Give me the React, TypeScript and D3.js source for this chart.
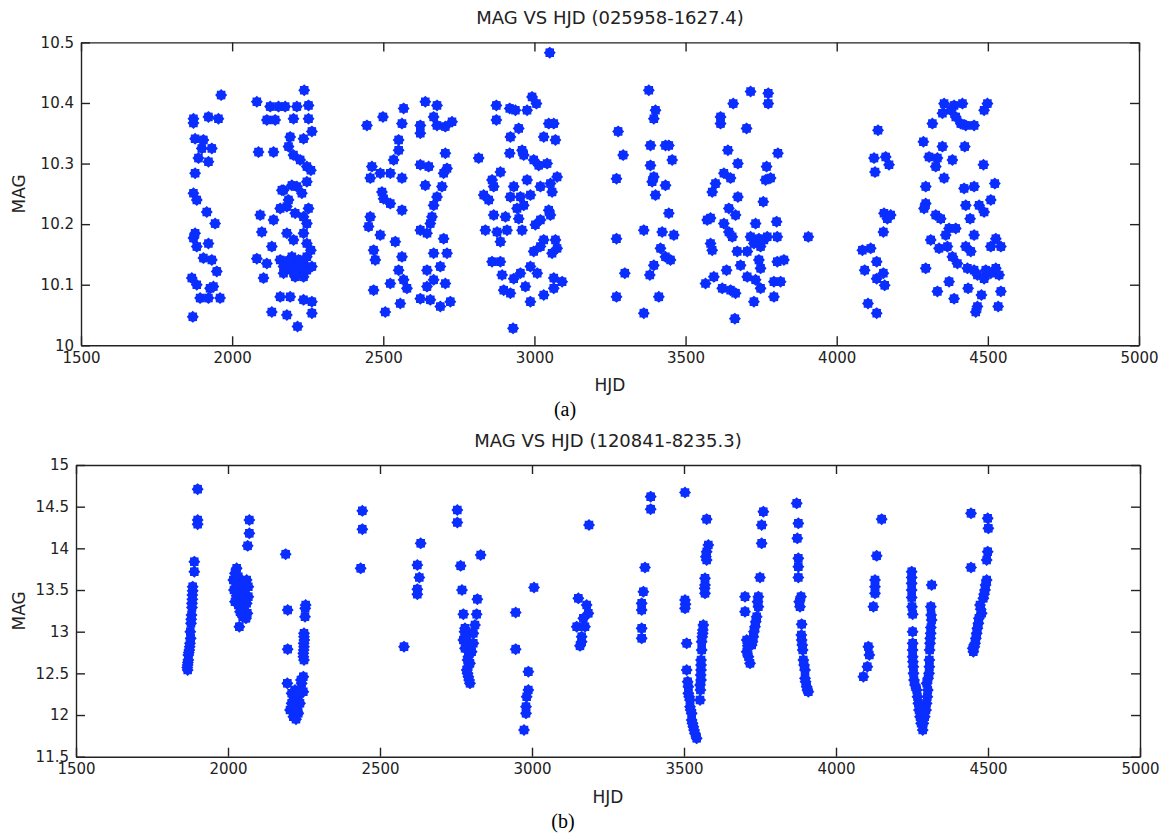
import React, { useRef, useEffect } from "react";
import * as d3 from "d3";

type Pt = [number, number]; // [HJD, MAG]

// ---- (a) 025958-1627.4, one array per observing season ----
const seasonA1: Pt[] = [
  [1963.6, 10.413], [1872, 10.374], [1872, 10.367], [1921.6, 10.377], [1954.7, 10.374],
  [1877.5, 10.341], [1905, 10.339], [1899.6, 10.325], [1932.7, 10.325], [1888.5, 10.309],
  [1921.6, 10.303], [1877.5, 10.284], [1872, 10.251], [1883, 10.24], [1916, 10.22],
  [1943.7, 10.201], [1877.5, 10.185], [1872, 10.177], [1883, 10.163], [1921.6, 10.168],
  [1905, 10.144], [1932.7, 10.141], [1949.2, 10.122], [1866.5, 10.111], [1883, 10.1],
  [1938, 10.097], [1927, 10.094], [1894, 10.078], [1921.6, 10.078], [1960, 10.078],
  [1869.8, 10.047],
];
const seasonA2: Pt[] = [
  [2081.7, 10.402], [2125.8, 10.394], [2153.4, 10.394], [2175.5, 10.394], [2214.1, 10.394],
  [2252.7, 10.396], [2238.4, 10.421], [2114.8, 10.372], [2142.4, 10.372], [2203, 10.374],
  [2252.7, 10.374], [2263.8, 10.353], [2192, 10.344], [2236.2, 10.341], [2087.2, 10.319],
  [2136.9, 10.319], [2186.5, 10.328], [2203, 10.314], [2225.1, 10.306], [2247.2, 10.295],
  [2260.5, 10.289], [2247.2, 10.27], [2214.1, 10.262], [2170, 10.256], [2230.7, 10.251],
  [2181, 10.229], [2208.6, 10.218], [2252.7, 10.226], [2092.7, 10.215], [2136.9, 10.207],
  [2159, 10.226], [2247.2, 10.201], [2181, 10.185], [2098.2, 10.187], [2236.2, 10.185],
  [2131.3, 10.163], [2203, 10.174], [2247.2, 10.168], [2260.5, 10.157], [2081.7, 10.143],
  [2114.8, 10.135], [2159, 10.141], [2181, 10.13], [2203, 10.135], [2225.1, 10.124],
  [2247.2, 10.124], [2263.8, 10.13], [2103.8, 10.111], [2170, 10.119], [2236.2, 10.113],
  [2197.6, 10.146], [2219.6, 10.141], [2159, 10.08], [2192, 10.08], [2236.2, 10.075],
  [2263.8, 10.072], [2131.3, 10.055], [2181, 10.05], [2263.8, 10.053], [2216.3, 10.031],
  [2164.5, 10.256], [2197.6, 10.264], [2186.5, 10.24], [2236, 10.212], [2247, 10.146],
  [2208.6, 10.113], [2170, 10.13], [2192, 10.125], [2214, 10.13], [2225, 10.14],
  [2236, 10.135], [2186, 10.14], [2203, 10.12],
];
const seasonA3: Pt[] = [
  [2445.9, 10.363], [2498.9, 10.377], [2567.3, 10.391], [2639, 10.402], [2677.7, 10.396],
  [2561.8, 10.366], [2622.5, 10.363], [2622.5, 10.35], [2666.6, 10.377], [2677.7, 10.363],
  [2705.3, 10.361], [2727.4, 10.369], [2550.8, 10.339], [2550.8, 10.322], [2534.2, 10.306],
  [2705.3, 10.317], [2462.4, 10.295], [2490, 10.284], [2523.2, 10.284], [2561.8, 10.276],
  [2456.9, 10.276], [2622.5, 10.298], [2650.1, 10.295], [2710.8, 10.292], [2699.7, 10.284],
  [2639, 10.264], [2694.2, 10.262], [2677.7, 10.245], [2666.6, 10.231], [2495.6, 10.253],
  [2501.1, 10.242], [2523.2, 10.234], [2561.8, 10.223], [2456.9, 10.212], [2451.4, 10.196],
  [2490, 10.182], [2661.1, 10.212], [2655.6, 10.201], [2622.5, 10.19], [2644.6, 10.185],
  [2539.7, 10.171], [2699.7, 10.176], [2468, 10.157], [2473.5, 10.141], [2561.8, 10.146],
  [2550.8, 10.124], [2567.3, 10.108], [2578.3, 10.094], [2666.6, 10.152], [2710.8, 10.152],
  [2644.6, 10.124], [2688.7, 10.13], [2666.6, 10.108], [2644.6, 10.097], [2705.3, 10.102],
  [2468, 10.091], [2523.2, 10.102], [2556.3, 10.069], [2622.5, 10.077], [2655.6, 10.075],
  [2688.7, 10.064], [2721.8, 10.072], [2506.6, 10.055],
];
const seasonA4: Pt[] = [
  [3050.7, 10.483], [2815.6, 10.309], [2874.1, 10.396], [2874.1, 10.372], [2918.3, 10.391],
  [2937.1, 10.388], [2975.7, 10.388], [2992.2, 10.41], [3006.6, 10.399], [3047.4, 10.366],
  [3064, 10.366], [3030.8, 10.344], [3069.5, 10.339], [2948.1, 10.358], [2920.5, 10.344],
  [2918.3, 10.317], [2959.1, 10.322], [2964.6, 10.314], [2997.7, 10.306], [3041.9, 10.3],
  [3014.3, 10.297], [2887.4, 10.286], [2859.8, 10.273], [2975.7, 10.273], [3075, 10.278],
  [3052.9, 10.267], [3019.8, 10.262], [2832.2, 10.248], [2865.3, 10.262], [2931.6, 10.262],
  [2920.5, 10.245], [2953.6, 10.245], [2986.7, 10.248], [3058.4, 10.253], [2848.7, 10.24],
  [2964.6, 10.231], [2942.6, 10.226], [2865.3, 10.215], [2904.2, 10.212], [2948.1, 10.209],
  [3047.4, 10.223], [3052.9, 10.215], [3019.8, 10.207], [3003.2, 10.199], [2837.7, 10.19],
  [2876.3, 10.187], [2909.4, 10.19], [2959.1, 10.19], [2887.4, 10.171], [3030.8, 10.174],
  [3069.5, 10.174], [2997.7, 10.155], [3019.8, 10.163], [3058.4, 10.152], [3075, 10.16],
  [2859.8, 10.138], [2887.4, 10.138], [2986.7, 10.13], [2953.6, 10.119], [2893, 10.116],
  [2931.6, 10.11], [3009.3, 10.119], [3064, 10.111], [3091.6, 10.105], [2898.4, 10.091],
  [2920.5, 10.086], [2970.2, 10.097], [3064, 10.094], [2986.7, 10.072], [3030.8, 10.083],
  [2929.3, 10.028],
];
const seasonA5: Pt[] = [
  [3277, 10.353], [3293.5, 10.314], [3271.5, 10.275], [3271.5, 10.176], [3299, 10.119],
  [3271.5, 10.08], [3361.8, 10.19], [3378.4, 10.421], [3400.5, 10.388], [3395, 10.374],
  [3383.9, 10.33], [3433.6, 10.33], [3444.6, 10.33], [3455.7, 10.306], [3383.9, 10.297],
  [3395, 10.278], [3389.4, 10.27], [3433.6, 10.264], [3400.5, 10.248], [3444.6, 10.218],
  [3422.5, 10.187], [3461.2, 10.182], [3417, 10.16], [3433.6, 10.146], [3450.1, 10.141],
  [3395, 10.132], [3381.7, 10.116], [3411.5, 10.08], [3361.8, 10.053],
];
const seasonA6: Pt[] = [
  [3715, 10.419], [3773.5, 10.416], [3773.5, 10.399], [3657.6, 10.399], [3615.7, 10.377],
  [3615.7, 10.366], [3701.8, 10.358], [3640, 10.322], [3673.1, 10.3], [3768, 10.295],
  [3805.5, 10.317], [3626.7, 10.284], [3648.8, 10.276], [3764.7, 10.273], [3781.2, 10.276],
  [3599.1, 10.267], [3588.1, 10.253], [3673.1, 10.245], [3757, 10.237], [3643.3, 10.226],
  [3665.4, 10.215], [3571.5, 10.207], [3582.6, 10.21], [3626.7, 10.201], [3643.3, 10.187],
  [3654.3, 10.179], [3731.6, 10.201], [3801.1, 10.204], [3715, 10.179], [3742.6, 10.176],
  [3770.2, 10.179], [3803.3, 10.179], [3726.1, 10.168], [3748.1, 10.163], [3759.2, 10.174],
  [3582.6, 10.168], [3588.1, 10.157], [3670.9, 10.155], [3704, 10.155], [3681.9, 10.132],
  [3742.6, 10.141], [3748.1, 10.127], [3803.3, 10.138], [3825.4, 10.141], [3635.6, 10.124],
  [3566, 10.102], [3593.6, 10.113], [3704, 10.113], [3731.6, 10.108], [3748.1, 10.094],
  [3792.3, 10.105], [3814.4, 10.105], [3621.2, 10.094], [3648.8, 10.091], [3665.4, 10.086],
  [3726.1, 10.072], [3792.3, 10.08], [3663.1, 10.044], [3906, 10.179],
];
const seasonA7: Pt[] = [
  [4136.6, 10.355], [4123.4, 10.309], [4162, 10.311], [4173.1, 10.298], [4126.7, 10.286],
  [4156.5, 10.218], [4178.6, 10.215], [4167.5, 10.209], [4154.3, 10.187], [4084.8, 10.157],
  [4112.4, 10.16], [4132.2, 10.138], [4092.5, 10.124], [4154.3, 10.119], [4132.2, 10.11],
  [4158.7, 10.099], [4103.5, 10.069], [4132.2, 10.053],
];
const seasonA8: Pt[] = [
  [4355.2, 10.399], [4388.3, 10.396], [4415.9, 10.399], [4377.2, 10.388], [4349.7, 10.383],
  [4393.8, 10.377], [4410.4, 10.366], [4427, 10.363], [4454.5, 10.363], [4498.6, 10.399],
  [4487.6, 10.388], [4316.5, 10.366], [4286.7, 10.336], [4349.7, 10.328], [4423.6, 10.328],
  [4305.5, 10.311], [4333.1, 10.309], [4382.7, 10.306], [4327.6, 10.295], [4485.4, 10.298],
  [4355.2, 10.276], [4294.5, 10.262], [4421.4, 10.259], [4454.5, 10.262], [4523, 10.267],
  [4294.5, 10.234], [4289, 10.226], [4427, 10.231], [4471.1, 10.231], [4487.6, 10.22],
  [4509.7, 10.24], [4327.6, 10.215], [4344.1, 10.209], [4441.3, 10.209], [4371.7, 10.193],
  [4393.8, 10.193], [4360.7, 10.182], [4454.5, 10.182], [4311, 10.174], [4526.3, 10.176],
  [4338.6, 10.16], [4366.2, 10.163], [4427, 10.163], [4443.5, 10.155], [4509.7, 10.163],
  [4543, 10.163], [4382.7, 10.146], [4399.3, 10.135], [4432.4, 10.127], [4454.5, 10.124],
  [4493.1, 10.124], [4526.3, 10.127], [4294.5, 10.127], [4465.5, 10.116], [4487.6, 10.11],
  [4537.3, 10.116], [4509.7, 10.119], [4371.7, 10.105], [4333.1, 10.089], [4434.6, 10.094],
  [4478.8, 10.083], [4543, 10.089], [4388.3, 10.077], [4465.5, 10.064], [4460, 10.055],
  [4534.1, 10.064],
];

// ---- (b) 120841-8235.3 ----
const seasonB1: Pt[] = [
  [1900.2, 14.71], [1900.2, 14.34], [1900.2, 14.29], [1889.2, 13.84], [1889.2, 13.72],
  [1883.8, 13.54], [1883.8, 13.49], [1882.7, 13.44], [1882.7, 13.39], [1881.6, 13.34],
  [1881.6, 13.29], [1878.3, 13.1], [1877.2, 12.92], [1875, 12.86], [1872.8, 12.78],
  [1869.5, 12.72], [1869.5, 12.66], [1867.3, 12.6], [1867.3, 12.54], [1880, 13.2],
  [1879, 13.15], [1876, 13.0], [1874, 12.82], [1871, 12.75], [1868, 12.63], [1866, 12.57],
];
const seasonB2: Pt[] = [
  [2070.2, 14.34], [2070.2, 14.18], [2064.7, 14.03], [2028.5, 13.76], [2023, 13.7],
  [2034, 13.66], [2017.5, 13.62], [2045, 13.6], [2061.4, 13.62], [2028.5, 13.56],
  [2050.4, 13.54], [2066.9, 13.54], [2019.7, 13.5], [2039.5, 13.48], [2055.9, 13.46],
  [2028.5, 13.43], [2066.9, 13.42], [2045, 13.38], [2023, 13.36], [2061.4, 13.34],
  [2034, 13.32], [2050.4, 13.28], [2039.5, 13.24], [2063.6, 13.22], [2048.2, 13.18],
  [2059.2, 13.16], [2037.3, 13.06],
];
const seasonB3: Pt[] = [
  [2189.7, 13.93], [2196.3, 13.26], [2196.3, 12.79], [2255.5, 13.32], [2253.3, 13.18],
  [2250, 12.98], [2251.1, 12.9], [2250, 12.82], [2247.8, 12.74], [2250, 12.66],
  [2195.2, 12.38], [2247.8, 12.46], [2242.3, 12.38], [2236.8, 12.3], [2220.4, 12.3],
  [2209.4, 12.26], [2247.8, 12.28], [2231.3, 12.22], [2214.9, 12.18], [2236.8, 12.14],
  [2209.4, 12.14], [2225.9, 12.08], [2204, 12.06], [2231.3, 12.02], [2214.9, 11.98],
  [2223.7, 11.95], [2250, 12.94], [2249, 12.86], [2249, 12.78], [2248, 12.7],
  [2254, 13.28], [2240, 12.42], [2225, 12.26], [2218, 12.1], [2228, 12.04],
];
const seasonB4: Pt[] = [
  [2441.9, 14.45], [2441.9, 14.23], [2436.4, 13.76], [2579, 12.82], [2633.8, 14.06],
  [2622.8, 13.8], [2629.4, 13.65], [2622.8, 13.51], [2622.8, 13.45],
];
const seasonB5: Pt[] = [
  [2754.4, 14.46], [2754.4, 14.31], [2765.3, 13.79], [2831.1, 13.92], [2769.7, 13.5],
  [2820.2, 13.39], [2774.1, 13.21], [2818, 13.21], [2779.6, 13.04], [2812.5, 13.08],
  [2807, 12.98], [2774.1, 12.9], [2785.1, 12.86], [2807, 12.86], [2779.6, 12.8],
  [2801.5, 12.76], [2790.6, 12.7], [2796, 12.62], [2785.1, 12.54], [2790.6, 12.46],
  [2796, 12.38], [2778, 13.0], [2782, 12.92], [2788, 12.66], [2790, 12.58], [2788, 12.5],
  [2793, 12.42],
];
const seasonB6: Pt[] = [
  [3006.6, 13.53], [2946.3, 13.23], [2946.3, 12.79], [2988, 12.52], [2988, 12.3],
  [2982.5, 12.22], [2980.3, 12.1], [2980.3, 12.02], [2973.7, 11.82],
];
const seasonB7: Pt[] = [
  [3187.5, 14.28], [3152.4, 13.4], [3179.8, 13.32], [3185.3, 13.22], [3168.9, 13.16],
  [3147, 13.06], [3174.3, 13.06], [3163.4, 12.94], [3163.4, 12.88], [3157.9, 12.83],
];
const seasonB8: Pt[] = [
  [3390.4, 14.62], [3390.4, 14.47], [3371.7, 13.77], [3366.3, 13.48], [3360.8, 13.34],
  [3360.8, 13.26], [3360.8, 13.04], [3360.8, 12.92],
];
const seasonB9: Pt[] = [
  [3503.3, 14.67], [3574.6, 14.35], [3580.1, 14.04], [3574.6, 13.96], [3574.6, 13.86],
  [3569.1, 13.64], [3569.1, 13.56], [3569.1, 13.46], [3503.3, 13.38], [3503.3, 13.28],
  [3563.6, 13.08], [3561.4, 12.98], [3558.2, 12.88], [3558.2, 12.78], [3556, 12.66],
  [3556, 12.54], [3556, 12.42], [3552.7, 12.36], [3508.8, 12.86], [3508.8, 12.54],
  [3514.3, 12.34], [3514.3, 12.26], [3519.8, 12.18], [3519.8, 12.1], [3525.3, 12.02],
  [3525.3, 11.94], [3530.7, 11.86], [3536.2, 11.78], [3541.7, 11.72], [3552.7, 12.18],
  [3556, 12.6], [3555, 12.48], [3554, 12.3], [3560, 12.94], [3562, 13.02], [3512, 12.4],
  [3517, 12.22], [3522, 12.06], [3528, 11.9], [3533, 11.82], [3568, 13.52], [3572, 13.9],
  [3505, 13.33],
];
const seasonB10: Pt[] = [
  [3761, 14.44], [3755.5, 14.28], [3755.5, 14.06], [3750, 13.65], [3700.7, 13.42],
  [3700.7, 13.24], [3744.6, 13.42], [3744.6, 13.3], [3739.1, 13.18], [3733.6, 13.06],
  [3728.1, 12.94], [3722.6, 12.84], [3706.2, 12.9], [3706.2, 12.76], [3717.2, 12.62],
  [3742, 13.36], [3736, 13.12], [3730, 13.0], [3725, 12.88], [3710, 12.83], [3712, 12.7],
];
const seasonB11: Pt[] = [
  [3870.7, 14.54], [3876.1, 14.3], [3872.8, 14.12], [3876.1, 13.88], [3876.1, 13.78],
  [3876.1, 13.65], [3884.9, 13.42], [3881.6, 13.3], [3887.1, 13.09], [3887.1, 12.9],
  [3890.4, 12.78], [3892.6, 12.66], [3898.1, 12.54], [3898.1, 12.44], [3903.6, 12.34],
  [3909, 12.28], [3879, 13.36], [3886, 12.96], [3889, 12.84], [3895, 12.6], [3900, 12.4],
  [3906, 12.3],
];
const seasonB12: Pt[] = [
  [4150.3, 14.35], [4133.8, 13.91], [4128.3, 13.62], [4128.3, 13.54], [4128.3, 13.46],
  [4122.9, 13.3], [4106.4, 12.82], [4109.7, 12.72], [4103.1, 12.58], [4090, 12.46],
];
const seasonB13: Pt[] = [
  [4249, 13.72], [4249, 13.58], [4249, 13.41], [4252.3, 13.21], [4314.7, 13.56],
  [4314.7, 13.14], [4311.5, 12.98], [4309.3, 12.86], [4307.1, 12.66], [4307.1, 12.58],
  [4252.3, 12.86], [4252.3, 12.7], [4254.4, 12.58], [4256.6, 12.42], [4265.4, 12.3],
  [4270.9, 12.14], [4276.4, 11.98], [4285.2, 11.82], [4298.3, 12.38], [4300.5, 12.22],
  [4296.1, 12.06], [4287.3, 11.9], [4249, 13.65], [4249, 13.5], [4250, 13.3],
  [4252, 13.0], [4252, 12.78], [4253, 12.64], [4255, 12.5], [4260, 12.36], [4268, 12.22],
  [4273, 12.06], [4280, 11.9], [4312, 13.05], [4310, 12.92], [4308, 12.78], [4306, 12.5],
  [4303, 12.44], [4302, 12.3], [4298, 12.14], [4292, 11.98], [4312, 13.3], [4313, 13.2],
];
const seasonB14: Pt[] = [
  [4444.1, 14.42], [4499, 14.36], [4501.2, 14.24], [4444.1, 13.77], [4499, 13.96],
  [4495.7, 13.86], [4495.7, 13.62], [4490.2, 13.5], [4484.7, 13.4], [4473.7, 13.32],
  [4479.2, 13.22], [4468.3, 13.1], [4462.8, 12.98], [4457.3, 12.86], [4451.8, 12.76],
  [4492, 13.56], [4487, 13.45], [4476, 13.27], [4470, 13.16], [4465, 13.04], [4460, 12.92],
  [4455, 12.82], [4450, 12.8],
];

const xTicks = [1500, 2000, 2500, 3000, 3500, 4000, 4500, 5000];
const yTicksA = [10, 10.1, 10.2, 10.3, 10.4, 10.5];
const yTicksB = [11.5, 12, 12.5, 13, 13.5, 14, 14.5, 15];

const pointsA = [seasonA1, seasonA2, seasonA3, seasonA4, seasonA5, seasonA6, seasonA7, seasonA8].flat();
const pointsB = [
  seasonB1, seasonB2, seasonB3, seasonB4, seasonB5, seasonB6, seasonB7,
  seasonB8, seasonB9, seasonB10, seasonB11, seasonB12, seasonB13, seasonB14,
].flat();

const BLUE = "#0a2eff";
const INK = "#222";
const FONT = "DejaVu Sans, sans-serif";

// filled 8-point burst, like the old Matlab '*' marker at this size
const burst = (() => {
  const pts: [number, number][] = d3.range(16).map((i) => [
    (i * Math.PI) / 8,
    i % 2 === 0 ? 6 : 4.7,
  ]);
  return d3.lineRadial().curve(d3.curveLinearClosed)(pts) as string;
})();

const App = () => {
  const svgRef = useRef<SVGSVGElement>(null);

  useEffect(() => {
    const svg = d3.select(svgRef.current);
    svg.selectAll("*").remove();

    const panels = [
      {
        title: "MAG VS HJD (025958-1627.4)",
        caption: "(a)",
        data: pointsA,
        yTicks: yTicksA,
        box: { left: 81, right: 1139, top: 42.4, bottom: 345.3 },
      },
      {
        title: "MAG VS HJD (120841-8235.3)",
        caption: "(b)",
        data: pointsB,
        yTicks: yTicksB,
        box: { left: 76, right: 1140, top: 465, bottom: 756.7 },
      },
    ];

    panels.forEach((p) => {
      const { left, right, top, bottom } = p.box;
      const x = d3.scaleLinear().domain([1500, 5000]).range([left, right]);
      const y = d3
        .scaleLinear()
        .domain([p.yTicks[0], p.yTicks[p.yTicks.length - 1]])
        .range([bottom, top]);
      const g = svg.append("g");

      g.append("rect")
        .attr("x", left)
        .attr("y", top)
        .attr("width", right - left)
        .attr("height", bottom - top)
        .attr("fill", "#fff");

      // points
      g.append("g")
        .selectAll("path")
        .data(p.data)
        .enter()
        .append("path")
        .attr("d", burst)
        .attr("transform", (d) => `translate(${x(d[0])},${y(d[1])})`)
        .attr("fill", BLUE);

      // axes, ticks pointing inward on all four sides
      const fmt = (v: d3.NumberValue) => String(+v);
      const axes = [
        { ax: d3.axisBottom(x).tickValues(xTicks).tickFormat(fmt), t: `translate(0,${bottom})` },
        { ax: d3.axisTop(x).tickValues(xTicks).tickFormat(() => ""), t: `translate(0,${top})` },
        { ax: d3.axisLeft(y).tickValues(p.yTicks).tickFormat(fmt), t: `translate(${left},0)` },
        { ax: d3.axisRight(y).tickValues(p.yTicks).tickFormat(() => ""), t: `translate(${right},0)` },
      ];
      axes.forEach(({ ax, t }) => {
        const a = g
          .append("g")
          .attr("transform", t)
          .call(ax.tickSizeInner(-9).tickSizeOuter(0).tickPadding(7));
        a.selectAll("path, line").attr("stroke", INK).attr("stroke-width", 1.4);
        a.selectAll("text")
          .attr("fill", INK)
          .style("font-family", FONT)
          .style("font-size", "15px");
      });

      // title and labels
      const mid = (left + right) / 2;
      g.append("text")
        .attr("x", mid)
        .attr("y", top - 18)
        .attr("text-anchor", "middle")
        .attr("fill", INK)
        .style("font-family", FONT)
        .style("font-size", "18px")
        .text(p.title);

      g.append("text")
        .attr("x", mid)
        .attr("y", bottom + 46)
        .attr("text-anchor", "middle")
        .attr("fill", INK)
        .style("font-family", FONT)
        .style("font-size", "17px")
        .text("HJD");

      g.append("text")
        .attr("transform", `translate(25,${(top + bottom) / 2}) rotate(-90)`)
        .attr("text-anchor", "middle")
        .attr("fill", INK)
        .style("font-family", FONT)
        .style("font-size", "17px")
        .text("MAG");

      g.append("text")
        .attr("x", mid - 45)
        .attr("y", bottom + 71)
        .attr("text-anchor", "middle")
        .attr("fill", "#000")
        .style("font-family", "Liberation Serif, serif")
        .style("font-size", "20px")
        .text(p.caption);
    });
  }, []);

  return (
    <svg
      ref={svgRef}
      width={1163}
      height={840}
      style={{ position: "absolute", left: 0, top: 0, background: "#fff" }}
    ></svg>
  );
};

export default App;
